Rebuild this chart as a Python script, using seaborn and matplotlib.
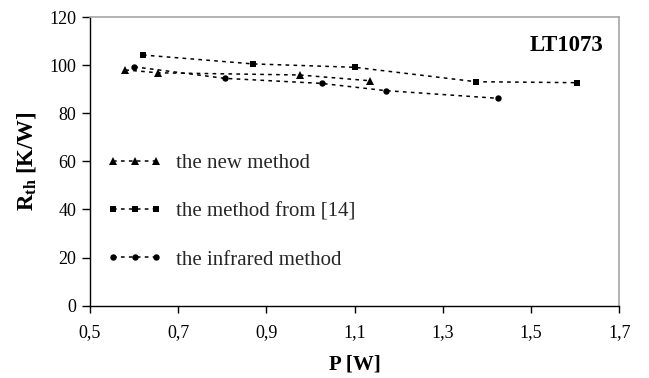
import matplotlib
matplotlib.use("Agg")
import matplotlib.pyplot as plt
import seaborn as sns
import pandas as pd

# ---- data ----
p_new = [0.58, 0.655, 0.975, 1.135]
r_new = [98.0, 96.8, 95.9, 93.5]

p_ref14 = [0.62, 0.87, 1.10, 1.375, 1.605]
r_ref14 = [104.2, 100.5, 99.1, 93.1, 92.7]

p_ir = [0.60, 0.805, 1.025, 1.17, 1.425]
r_ir = [99.3, 94.5, 92.4, 89.4, 86.2]

labels = ["the new method", "the method from [14]", "the infrared method"]
x_ticks = [0.5, 0.7, 0.9, 1.1, 1.3, 1.5, 1.7]
x_tick_labels = ["0,5", "0,7", "0,9", "1,1", "1,3", "1,5", "1,7"]
y_ticks = [0, 20, 40, 60, 80, 100, 120]

sns.set_theme(style="white")
plt.rcParams["font.family"] = ["Liberation Serif", "DejaVu Serif"]
plt.rcParams["mathtext.fontset"] = "custom"
plt.rcParams["mathtext.rm"] = "Liberation Serif"
plt.rcParams["mathtext.bf"] = "Liberation Serif:bold"
plt.rcParams["mathtext.it"] = "Liberation Serif:italic"

fig = plt.figure(figsize=(6.49, 3.78), dpi=100)
ax = fig.add_axes([90 / 649, 1 - 305.7 / 378, (619.3 - 90) / 649, (305.7 - 17) / 378])
ax.set_facecolor("white")

dash = (0, (2.4, 2.8))
common = dict(color="black", linewidth=1.1, linestyle=dash, sort=False,
              markeredgewidth=0, estimator=None)

sns.lineplot(x=p_new, y=r_new, marker="^", markersize=6, label=labels[0], ax=ax, **common)
sns.lineplot(x=p_ref14, y=r_ref14, marker="s", markersize=5, label=labels[1], ax=ax, **common)
sns.lineplot(x=p_ir, y=r_ir, marker="o", markersize=4.6, label=labels[2], ax=ax, **common)

ax.set_xlim(0.5, 1.7)
ax.set_ylim(0, 120)
ax.set_xticks(x_ticks)
ax.set_xticklabels(x_tick_labels)
ax.set_yticks(y_ticks)

ax.tick_params(axis="both", which="major", direction="out", color="black",
               width=1.0, labelsize=13, labelcolor="black")
ax.tick_params(axis="x", length=5, pad=8, bottom=True)
ax.tick_params(axis="y", length=6, pad=4, left=True)

for side in ["left", "bottom"]:
    ax.spines[side].set_color("black")
    ax.spines[side].set_linewidth(1.0)
for side in ["top", "right"]:
    ax.spines[side].set_color("#a6a6a6")
    ax.spines[side].set_linewidth(1.2)
    ax.spines[side].set_visible(True)

ax.set_xlabel("P [W]", fontsize=15, fontweight="bold", color="black", labelpad=10)
ax.set_ylabel(r"R$_{\mathbf{th}}$ [K/W]", fontsize=16.5, fontweight="bold", color="black")
ax.yaxis.set_label_coords((38 - 90) / (619.3 - 90), 0.5)

ax.text(0.97, 0.90, "LT1073", transform=ax.transAxes, ha="right", va="center",
        fontsize=16.5, fontweight="bold", color="black")

ax.legend(loc="center left", bbox_to_anchor=(0.032, 0.326), frameon=False,
          numpoints=3, handlelength=2.67, handletextpad=0.65, labelspacing=1.38,
          borderpad=0, borderaxespad=0, fontsize=15)

ax.grid(False)
fig.savefig("out.png", dpi=100, facecolor="white")
